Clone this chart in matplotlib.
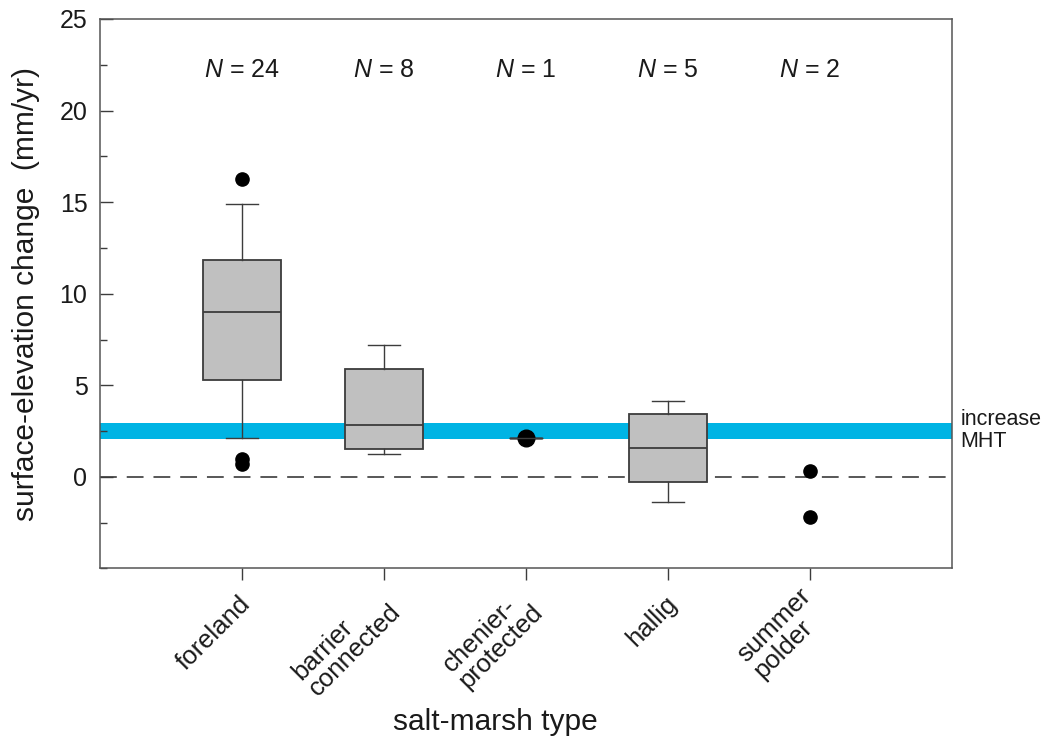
import numpy as np
import matplotlib
matplotlib.use('Agg')
import matplotlib.pyplot as plt
from matplotlib.ticker import MultipleLocator
from matplotlib.transforms import ScaledTranslation

plt.rcParams['font.family'] = ['Liberation Sans', 'DejaVu Sans']
plt.rcParams['mathtext.fontset'] = 'custom'
plt.rcParams['mathtext.rm'] = 'Liberation Sans'
plt.rcParams['mathtext.it'] = 'Liberation Sans:italic'

# salt-marsh types and counts
types = ['foreland', 'barrier\nconnected', 'chenier-\nprotected', 'hallig', 'summer\npolder']
counts = [24, 8, 1, 5, 2]

# box statistics (mm/yr)
box_names = ['foreland', 'barrier', 'hallig']
box_pos = [1, 2, 4]
box_whislo = [2.13, 1.25, -1.39]
box_q1 = [5.31, 1.53, -0.26]
box_med = [8.98, 2.82, 1.60]
box_q3 = [11.85, 5.91, 3.45]
box_whishi = [14.89, 7.22, 4.12]
box_fliers = [[16.26, 0.95, 0.72], [], []]

# single site (chenier-protected)
chenier_value = 2.13
# summer polders, plotted as points
polder_values = [0.34, -2.18]

# increase of mean high tide (band)
mht_low = 2.05
mht_high = 2.95

stats = []
for i in range(len(box_names)):
    stats.append(dict(label=box_names[i], whislo=box_whislo[i], q1=box_q1[i], med=box_med[i],
                      q3=box_q3[i], whishi=box_whishi[i], fliers=box_fliers[i]))

fig = plt.figure(figsize=(10.48, 7.38), dpi=100)
ax = fig.add_axes([0.0954, 0.2297, 0.8130, 0.7446])

edge = '#3c3c3c'
ax.axhspan(mht_low, mht_high, color='#00b4e4', lw=0, zorder=1)
ax.axhline(0, color='#2a2a2a', lw=1.1, linestyle=(0, (11, 6.5)), zorder=1.5)

ax.bxp(stats, positions=box_pos, widths=0.55, patch_artist=True, manage_ticks=False,
       boxprops=dict(facecolor='#c0c0c0', edgecolor=edge, linewidth=1.3),
       medianprops=dict(color=edge, linewidth=1.3),
       whiskerprops=dict(color=edge, linewidth=1.0),
       capprops=dict(color=edge, linewidth=1.0),
       capwidths=0.22,
       flierprops=dict(marker='o', markerfacecolor='black', markeredgecolor='black', markersize=9.5),
       zorder=3)

# chenier: only one value, drawn as a short line with a large dot
ax.bxp([dict(label='chenier', whislo=chenier_value, q1=chenier_value, med=chenier_value,
             q3=chenier_value, whishi=chenier_value, fliers=[chenier_value])],
       positions=[3], widths=0.22, manage_ticks=False,
       boxprops=dict(color=edge, linewidth=1.0),
       medianprops=dict(color=edge, linewidth=1.0),
       whiskerprops=dict(color=edge, linewidth=1.0),
       capprops=dict(color=edge, linewidth=1.0),
       capwidths=0.22,
       flierprops=dict(marker='o', markerfacecolor='black', markeredgecolor='black', markersize=12),
       zorder=3)

ax.plot([5] * len(polder_values), polder_values, 'o', color='black', markersize=9.5, zorder=4)

for i, n in enumerate(counts):
    ax.text(i + 1, 22.2, '$N$ = %d' % n, ha='center', va='center', fontsize=18, color='#1a1a1a')

ax.text(6.06, 2.55, 'increase\nMHT', ha='left', va='center', fontsize=15.5, linespacing=1.05,
        color='#1a1a1a', clip_on=False)

ax.set_xlim(0, 6)
ax.set_ylim(-5, 25)
ax.set_yticks([0, 5, 10, 15, 20, 25])
ax.yaxis.set_minor_locator(MultipleLocator(2.5))
ax.set_xticks(range(1, 6))
ax.set_xticklabels(types, rotation=45, ha='right', va='center', rotation_mode='anchor',
                   multialignment='left', linespacing=0.95)

ax.tick_params(axis='y', which='major', direction='in', length=9.5, width=1.0, pad=9,
               labelsize=18, colors='#3c3c3c', labelcolor='#1a1a1a')
ax.tick_params(axis='y', which='minor', direction='in', length=5, width=1.0, colors='#3c3c3c')
ax.tick_params(axis='x', which='major', direction='out', length=8.5, width=1.0, pad=5,
               labelsize=18.5, colors='#3c3c3c', labelcolor='#1a1a1a')

# nudge the rotated labels (after tick_params, which resets their transforms)
shift = ScaledTranslation(0.05, -0.13, fig.dpi_scale_trans)
for lbl in ax.get_xticklabels():
    lbl.set_transform(lbl.get_transform() + shift)

for s in ax.spines.values():
    s.set_color('#555555')
    s.set_linewidth(1.1)

ax.set_ylabel('surface-elevation change  (mm/yr)', fontsize=21.5, color='#1a1a1a')
ax.yaxis.set_label_coords(-0.070, 0.5)
ax.set_xlabel('salt-marsh type', fontsize=21.5, color='#1a1a1a')
ax.xaxis.set_label_coords(0.4636, -0.254)

fig.savefig('out.png', dpi=100)
